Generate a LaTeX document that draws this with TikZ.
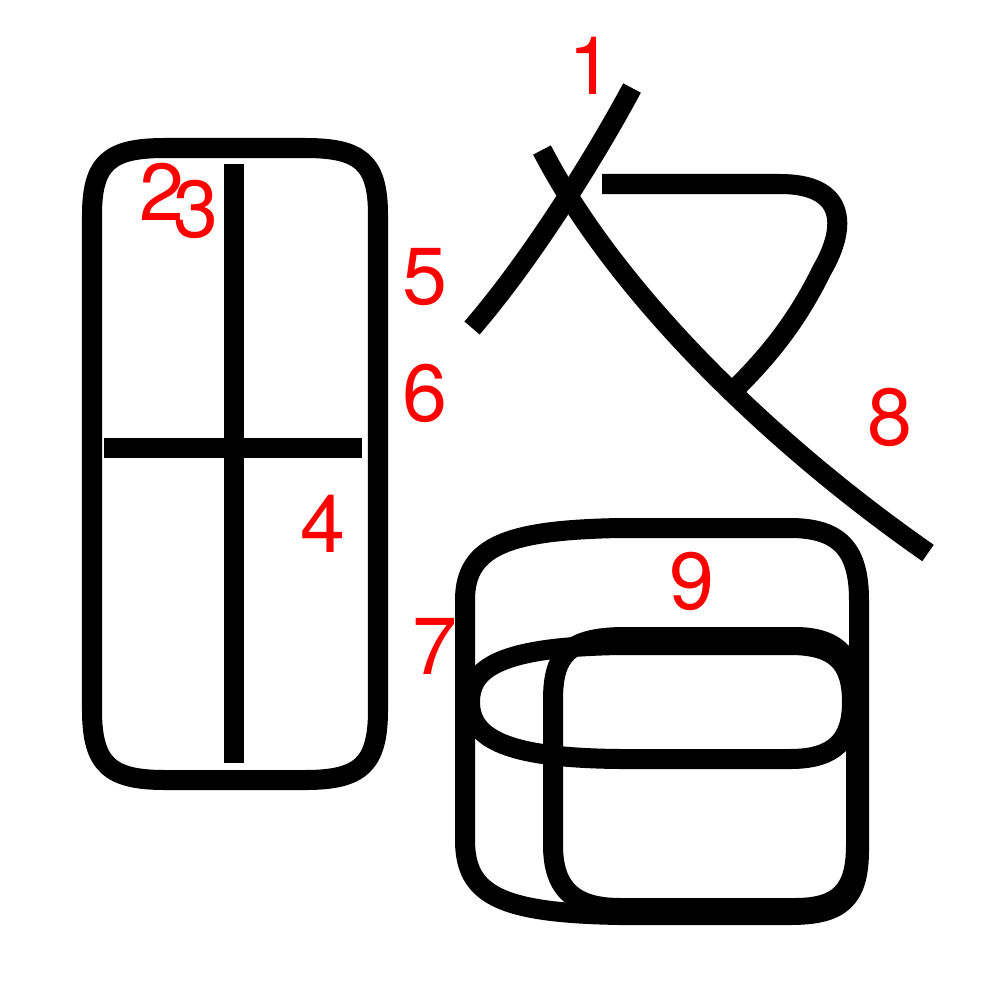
\documentclass[tikz,border=0pt]{standalone}
\usepackage{fontspec}
\newfontfamily\numfont{TeX Gyre Heros}
\usepackage{tikz}

\tikzset{
  kstroke/.style={line width=2mm,line cap=butt,line join=round},
  num/.style={red,inner sep=0pt,font=\numfont\fontsize{23}{23}\selectfont}
}

\begin{document}
\begin{tikzpicture}[x=0.01cm,y=-0.01cm]
  \useasboundingbox (0,0) rectangle (1000,1000);
  % left box
  \draw[kstroke] (92,215) .. controls (92,162) and (110,148) .. (165,148) -- (305,148)
    .. controls (360,148) and (378,162) .. (378,215) -- (378,710)
    .. controls (378,765) and (360,780) .. (305,780) -- (165,780)
    .. controls (110,780) and (92,765) .. (92,710) -- cycle;
  \draw[kstroke] (234,164) -- (234,763);
  \draw[kstroke] (104,448) -- (362,448);
  % upper right strokes
  \draw[kstroke] (632,88) .. controls (600,148) and (535,255) .. (472,328);
  \draw[kstroke] (602,184) -- (780,184) .. controls (845,184) and (848,225) .. (822,270)
    .. controls (795,325) and (765,360) .. (728,396);
  \draw[kstroke] (542,150) .. controls (620,300) and (780,450) .. (928,553);
  % lower box
  \draw[kstroke] (465,600) .. controls (465,545) and (510,530) .. (620,528) -- (790,528)
    .. controls (840,528) and (859,550) .. (859,600) -- (859,850)
    .. controls (859,900) and (840,915) .. (790,915) -- (620,915)
    .. controls (500,913) and (465,895) .. (465,840) -- cycle;
  \draw[kstroke] (620,645) .. controls (500,647) and (470,668) .. (470,702)
    .. controls (470,740) and (510,758) .. (620,759) -- (790,759)
    .. controls (835,759) and (852,740) .. (852,702)
    .. controls (852,662) and (835,645) .. (790,645) -- cycle;
  \draw[kstroke] (553,700) .. controls (553,655) and (568,637) .. (625,637) -- (795,637)
    .. controls (840,637) and (856,660) .. (856,700) -- (856,845)
    .. controls (856,890) and (840,908) .. (795,908) -- (620,908)
    .. controls (575,908) and (553,890) .. (553,845) -- cycle;
  % stroke numbers
  \node[num] (n1) at (591,66) {1};
  \node[num] (n2) at (162,192) {2};
  \node[num] (n3) at (196,209) {3};
  \node[num] (n4) at (323,524) {4};
  \node[num] (n5) at (425,277) {5};
  \node[num] (n6) at (425,393) {6};
  \node[num] (n7) at (435,646) {7};
  \node[num] (n8) at (890,417) {8};
  \node[num] (n9) at (692,581) {9};
\end{tikzpicture}
\end{document}
